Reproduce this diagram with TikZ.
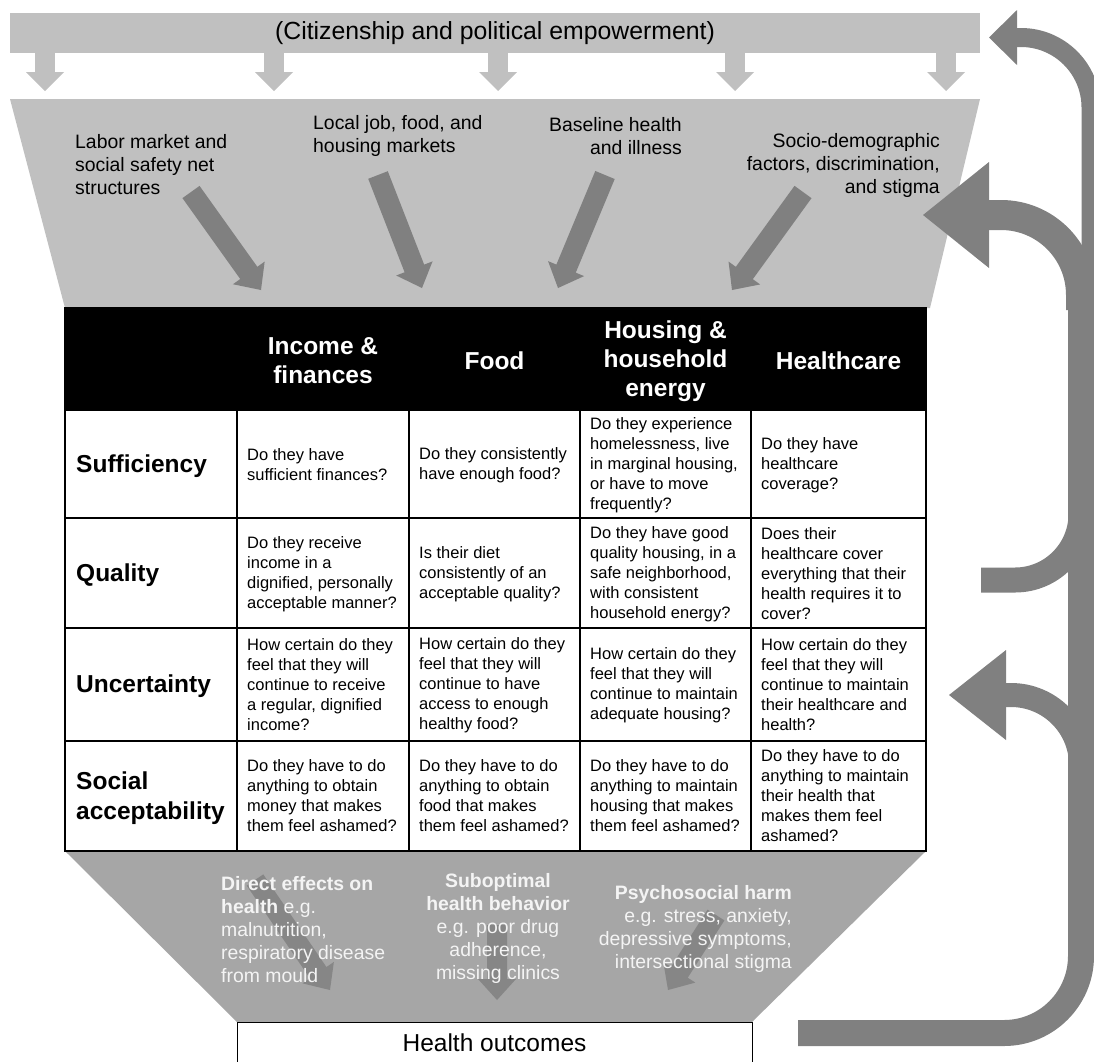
\documentclass[tikz,border=0pt]{standalone}
\usepackage{fontspec}
\setmainfont{Liberation Sans}
\usetikzlibrary{calc}

\definecolor{bandgray}{RGB}{192,192,192}
\definecolor{lowgray}{RGB}{166,166,166}
\definecolor{arrowgray}{RGB}{128,128,128}
\definecolor{lowarrow}{RGB}{134,134,134}
\definecolor{softwhite}{RGB}{244,244,244}

% fat straight arrow: tail, tip, half shaft, half head, head length, colour
\newcommand{\fatarrow}[6]{%
  \path ($(#2)!#5!(#1)$) coordinate (fa-h);
  \fill[#6] ($(#1)!#3!90:(#2)$) -- ($(fa-h)!#3!90:(#2)$) -- ($(fa-h)!#4!90:(#2)$)
    -- (#2) -- ($(fa-h)!#4!-90:(#2)$) -- ($(fa-h)!#3!-90:(#2)$) -- ($(#1)!#3!-90:(#2)$) -- cycle;}

\begin{document}
\begin{tikzpicture}[x=1pt,y=-1pt,
  lbl/.style={font=\fontsize{19.4}{23}\selectfont, inner sep=0pt},
  hdr/.style={font=\bfseries\fontsize{24.5}{29}\selectfont, text=white, align=center, inner sep=0pt},
  rowlbl/.style={font=\bfseries\fontsize{24.5}{30}\selectfont, align=left, anchor=west, inner sep=0pt},
  cellq/.style={font=\fontsize{16.5}{20}\selectfont, align=left, anchor=west, inner sep=0pt},
  lowtxt/.style={font=\fontsize{19.4}{23}\selectfont, text=softwhite, inner sep=0pt},
  gridline/.style={line width=1.2pt, draw=black},
  loop/.style={draw=arrowgray, line cap=butt}]
\useasboundingbox (0,0) rectangle (1094,1061);
\fill[white] (0,0) rectangle (1094,1061);

% top band with its five small arrows
\node[fill=bandgray, minimum width=970pt, minimum height=40pt, inner sep=0pt,
      font=\fontsize{24.8}{28}\selectfont] (band) at (495,33) {(Citizenship and political empowerment)};
\foreach \x in {45,274,498,735,946}{
  \fill[bandgray] (\x-10,53) rectangle (\x+10,73);
  \fill[bandgray] (\x-19,72) -- (\x+19,72) -- (\x,91) -- cycle;
}

% upper funnel
\fill[bandgray] (10,99) -- (980,99) -- (930,308) -- (65,308) -- cycle;

\node[lbl, anchor=west, align=left] (labor) at (75,165) {Labor market and\\social safety net\\structures};
\node[lbl, anchor=west, align=left] (local) at (313,136) {Local job, food, and\\housing markets};
\node[lbl, anchor=east, align=right] (base) at (682,136) {Baseline health\\and illness};
\node[lbl, anchor=east, align=right] (socio) at (940,165) {Socio-demographic\\factors, discrimination,\\and stigma};

\coordinate (u1a) at (191,192); \coordinate (u1b) at (261,290);
\coordinate (u2a) at (378,175); \coordinate (u2b) at (422,288);
\coordinate (u3a) at (605,175); \coordinate (u3b) at (558,288);
\coordinate (u4a) at (803,192); \coordinate (u4b) at (732,290);
\fatarrow{u1a}{u1b}{10.5pt}{19.5pt}{21pt}{arrowgray}
\fatarrow{u2a}{u2b}{10.5pt}{19.5pt}{21pt}{arrowgray}
\fatarrow{u3a}{u3b}{10.5pt}{19.5pt}{21pt}{arrowgray}
\fatarrow{u4a}{u4b}{10.5pt}{19.5pt}{21pt}{arrowgray}

% lower funnel
\fill[lowgray] (65,851) -- (926,851) -- (752,1022) -- (237,1022) -- cycle;
\coordinate (l1a) at (255,880); \coordinate (l1b) at (330,990);
\coordinate (l2a) at (497,925); \coordinate (l2b) at (497,1000);
\coordinate (l3a) at (716,915); \coordinate (l3b) at (668,990);
\fatarrow{l1a}{l1b}{10pt}{19pt}{21pt}{lowarrow}
\fatarrow{l2a}{l2b}{10pt}{19pt}{21pt}{lowarrow}
\fatarrow{l3a}{l3b}{10pt}{19pt}{21pt}{lowarrow}

\node[lowtxt, anchor=west, align=left] (direct) at (221,930)
  {\textbf{Direct effects on}\\\textbf{health} e.g.\\malnutrition,\\respiratory disease\\from mould};
\node[lowtxt, align=center] (subopt) at (498,928)
  {\textbf{Suboptimal}\\\textbf{health behavior}\\e.g. poor drug\\adherence,\\missing clinics};
\node[lowtxt, anchor=east, align=right] (psycho) at (792,929)
  {\textbf{Psychosocial harm}\\e.g. stress, anxiety,\\depressive symptoms,\\intersectional stigma};

% table
\fill[white] (65,410) rectangle (926,851);
\fill[black] (65,308) rectangle (926,410);
\draw[gridline] (65,308) rectangle (926,851);
\foreach \y in {410,518,628,741}{\draw[gridline] (65,\y) -- (926,\y);}
\foreach \x in {237,409,580,751}{\draw[gridline] (\x,410) -- (\x,851);}

\node[hdr] (hinc) at (323,361) {Income \&\\finances};
\node[hdr] (hfood) at (494.5,361) {Food};
\node[hdr] (hhous) at (665.5,361) {Housing \&\\household\\energy};
\node[hdr] (hcare) at (838.5,361) {Healthcare};

\node[rowlbl] (rsuf) at (76,466) {Sufficiency};
\node[rowlbl] (rqual) at (76,575) {Quality};
\node[rowlbl] (runc) at (76,686) {Uncertainty};
\node[rowlbl] (rsoc) at (76,798) {Social\\acceptability};

\node[cellq] (s1) at (247,465) {Do they have\\sufficient finances?};
\node[cellq] (s2) at (419,465) {Do they consistently\\have enough food?};
\node[cellq] (s3) at (590,465) {Do they experience\\homelessness, live\\in marginal housing,\\or have to move\\frequently?};
\node[cellq] (s4) at (761,465) {Do they have\\healthcare\\coverage?};

\node[cellq] (q1) at (247,574) {Do they receive\\income in a\\dignified, personally\\acceptable manner?};
\node[cellq] (q2) at (419,574) {Is their diet\\consistently of an\\acceptable quality?};
\node[cellq] (q3) at (590,574) {Do they have good\\quality housing, in a\\safe neighborhood,\\with consistent\\household energy?};
\node[cellq] (q4) at (761,574) {Does their\\healthcare cover\\everything that their\\health requires it to\\cover?};

\node[cellq] (u1) at (247,685) {How certain do they\\feel that they will\\continue to receive\\a regular, dignified\\income?};
\node[cellq] (u2) at (419,685) {How certain do they\\feel that they will\\continue to have\\access to enough\\healthy food?};
\node[cellq] (u3) at (590,685) {How certain do they\\feel that they will\\continue to maintain\\adequate housing?};
\node[cellq] (u4) at (761,685) {How certain do they\\feel that they will\\continue to maintain\\their healthcare and\\health?};

\node[cellq] (a1) at (247,796) {Do they have to do\\anything to obtain\\money that makes\\them feel ashamed?};
\node[cellq] (a2) at (419,796) {Do they have to do\\anything to obtain\\food that makes\\them feel ashamed?};
\node[cellq] (a3) at (590,796) {Do they have to do\\anything to maintain\\housing that makes\\them feel ashamed?};
\node[cellq] (a4) at (761,796) {Do they have to do\\anything to maintain\\their health that\\makes them feel\\ashamed?};

% outcome box
\node[draw=black, line width=1pt, fill=white, minimum width=515pt, minimum height=42pt, inner sep=0pt,
      font=\fontsize{24.5}{28}\selectfont] (health) at (494.5,1043) {Health outcomes};

% feedback loop on the right
\coordinate (loopstart) at (798,1033);
\draw[loop, line width=26pt] (loopstart) -- (1004,1033) .. controls (1046.5,1033) and (1081,998.5) .. (1081,956) -- (1081,290);
\draw[loop, line width=25pt] (981,580) -- (1015,580) .. controls (1051.4,580) and (1081,550.4) .. (1081,514) -- (1081,500);
\draw[loop, line width=24pt] (1081,785) -- (1081,765) .. controls (1081,726.4) and (1049.6,695) .. (1011,695) -- (1002,695);
\fill[arrowgray] (1006,650) -- (949,695) -- (1006,740) -- cycle;
\draw[loop, line width=30pt] (1081,310) -- (1081,295) .. controls (1081,250.8) and (1045.2,215) .. (1001,215) -- (985,215);
\fill[arrowgray] (989,162) -- (923,215) -- (989,268) -- cycle;
\draw[loop, line width=19pt] (1091,320) -- (1091,107.5) .. controls (1091,68.9) and (1059.6,37.5) .. (1021,37.5) -- (1013,37.5);
\fill[arrowgray] (1017,10) -- (989,37.5) -- (1017,65) -- cycle;
\end{tikzpicture}
\end{document}
